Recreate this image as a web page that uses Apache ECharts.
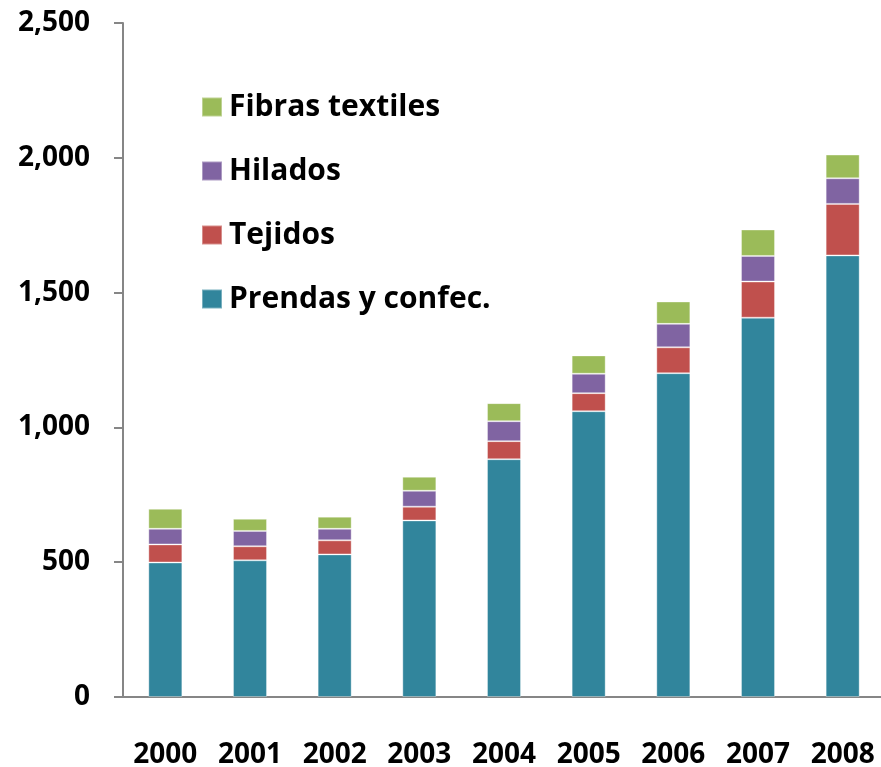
<!DOCTYPE html>
<html>
<head>
    <meta charset="utf-8">
    <title>Exportaciones textiles</title>
    <script src="https://cdn.jsdelivr.net/npm/echarts@6/dist/echarts.min.js"></script>
    <style>
        html, body { margin: 0; padding: 0; background: #fff; }
        #chart1 { width: 881px; height: 767px; }
    </style>
</head>
<body>
<div id="chart1"></div>
<script type="text/javascript">
    // años
    var years = ['2000', '2001', '2002', '2003', '2004', '2005', '2006', '2007', '2008'];
    // valores por segmento (de abajo hacia arriba)
    var prendas = [499, 507, 529, 655, 882, 1060, 1201, 1407, 1638];
    var tejidos = [67, 52, 52, 51, 67, 67, 96, 134, 191];
    var hilados = [58, 57, 43, 59, 74, 72, 87, 95, 95];
    var fibras = [74, 45, 45, 52, 67, 68, 83, 98, 88];

    var fontName = 'Open Sans';
    var axisColor = '#868686';

    function serie(name, data, color) {
        return {
            name: name,
            type: 'bar',
            stack: 'total',
            barWidth: 34,
            data: data,
            itemStyle: {
                color: color,
                borderColor: 'rgba(255,255,255,0.35)',
                borderWidth: 1
            }
        };
    }

    var myChart1 = echarts.init(document.getElementById('chart1'));
    var options = {
        animation: false,
        grid: {
            left: 123,
            right: -4,
            top: 23,
            bottom: 70,
            containLabel: false,
            outerBoundsMode: 'none'
        },
        legend: {
            orient: 'vertical',
            left: 196,
            top: 87,
            icon: 'rect',
            itemWidth: 20,
            itemHeight: 19,
            itemGap: 34,
            textStyle: {
                fontFamily: fontName,
                fontWeight: 'bold',
                fontSize: 30,
                color: '#000',
                padding: [0, 0, 0, 2]
            },
            data: ['Fibras textiles', 'Hilados', 'Tejidos', 'Prendas y confec.']
        },
        xAxis: {
            type: 'category',
            data: years,
            axisLine: { lineStyle: { color: axisColor, width: 2 } },
            axisTick: { length: 12, lineStyle: { color: axisColor, width: 2 } },
            axisLabel: {
                interval: 0,
                margin: 44,
                fontFamily: fontName,
                fontWeight: 'bold',
                fontSize: 28,
                color: '#000'
            }
        },
        yAxis: {
            type: 'value',
            min: 0,
            max: 2500,
            interval: 500,
            splitLine: { show: false },
            axisLine: { show: true, lineStyle: { color: axisColor, width: 2 } },
            axisTick: { show: true, length: 9, lineStyle: { color: axisColor, width: 2 } },
            axisLabel: {
                margin: 33,
                fontFamily: fontName,
                fontWeight: 'bold',
                fontSize: 28,
                color: '#000',
                formatter: function (v) {
                    return String(v).replace(/\B(?=(\d{3})+(?!\d))/g, ',');
                }
            }
        },
        series: [
            serie('Prendas y confec.', prendas, '#31859C'),
            serie('Tejidos', tejidos, '#C0504D'),
            serie('Hilados', hilados, '#8064A2'),
            serie('Fibras textiles', fibras, '#9BBB59')
        ]
    };
    myChart1.setOption(options);
</script>
</body>
</html>
